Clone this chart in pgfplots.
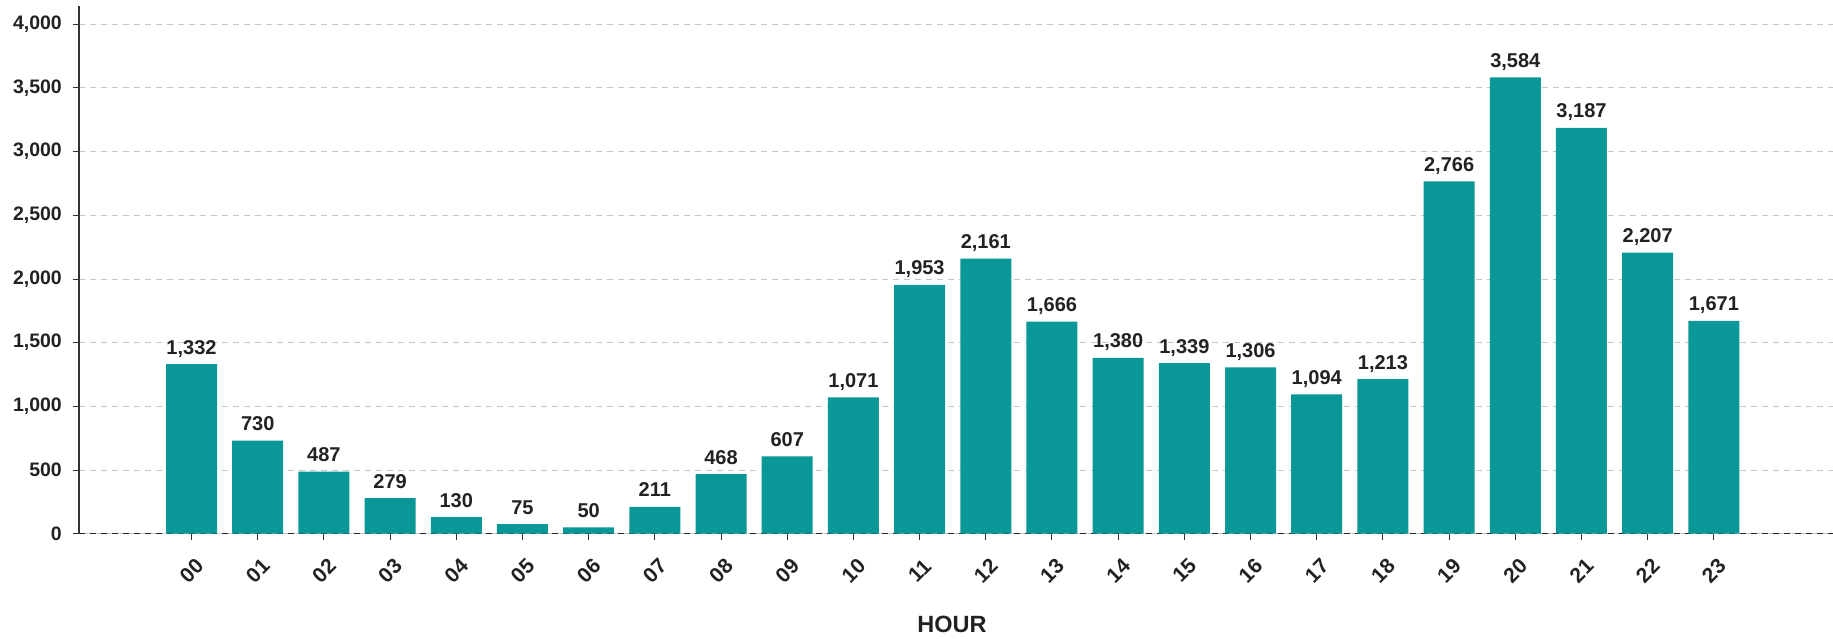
\documentclass[border=0pt]{standalone}
\usepackage{pgfplots}
\pgfplotsset{compat=1.18}
\usepackage{fontspec}
\setmainfont{Liberation Sans}
\definecolor{barc}{RGB}{10,151,151}
\definecolor{txt}{RGB}{34,34,34}
\begin{document}
\begin{tikzpicture}[x=1pt,y=1pt]
\useasboundingbox (0,0) rectangle (1833,639);
\begin{axis}[
  at={(79pt,105.3pt)}, anchor=south west,
  scale only axis, width=1754pt, height=527.7pt,
  xmin=-1.7, xmax=24.8, ymin=0, ymax=4144,
  axis x line*=bottom, axis y line*=left,
  x axis line style={-, draw=gray!45, line width=1.3pt},
  y axis line style={-, draw=black!80, line width=1.1pt},
  xtick=data,
  xticklabels={00,01,02,03,04,05,06,07,08,09,10,11,12,13,14,15,16,17,18,19,20,21,22,23},
  ytick={0,500,...,4000},
  tick align=outside, major tick length=6pt,
  tick style={draw=black!80, line width=1pt},
  ymajorgrids,
  grid style={draw=gray!45, line width=1pt, dash pattern=on 6pt off 5pt},
  extra y ticks={0}, extra y tick labels={},
  extra y tick style={grid style={draw=black!85, line width=1pt, dash pattern=on 6pt off 5pt}, major tick length=0pt},
  /pgf/number format/assume math mode=true,
  /pgf/number format/1000 sep={,},
  yticklabel style={font=\bfseries\fontsize{19.5}{19.5}\selectfont, color=txt, anchor=east, inner sep=0pt, xshift=-11pt},
  xticklabel style={font=\bfseries\fontsize{21}{21}\selectfont, color=txt, yshift=-31pt, rotate=45, anchor=center, inner sep=0pt},
  xlabel={HOUR},
  xlabel style={font=\bfseries\fontsize{23.5}{23.5}\selectfont, color=txt, at={(axis description cs:0.4977,0)}, anchor=center, yshift=-91pt, inner sep=0pt},
  ybar, bar width=51pt,
  nodes near coords,
  nodes near coords style={font=\bfseries\fontsize{20}{20}\selectfont, color=txt, anchor=base, yshift=10pt, inner sep=0pt, /pgf/number format/1000 sep={,}},
  clip=false,
]
\addplot[draw=none, fill=barc] coordinates {
(0,1332) (1,730) (2,487) (3,279) (4,130) (5,75) (6,50) (7,211) (8,468) (9,607)
(10,1071) (11,1953) (12,2161) (13,1666) (14,1380) (15,1339) (16,1306) (17,1094)
(18,1213) (19,2766) (20,3584) (21,3187) (22,2207) (23,1671)};
\end{axis}
\end{tikzpicture}
\end{document}
